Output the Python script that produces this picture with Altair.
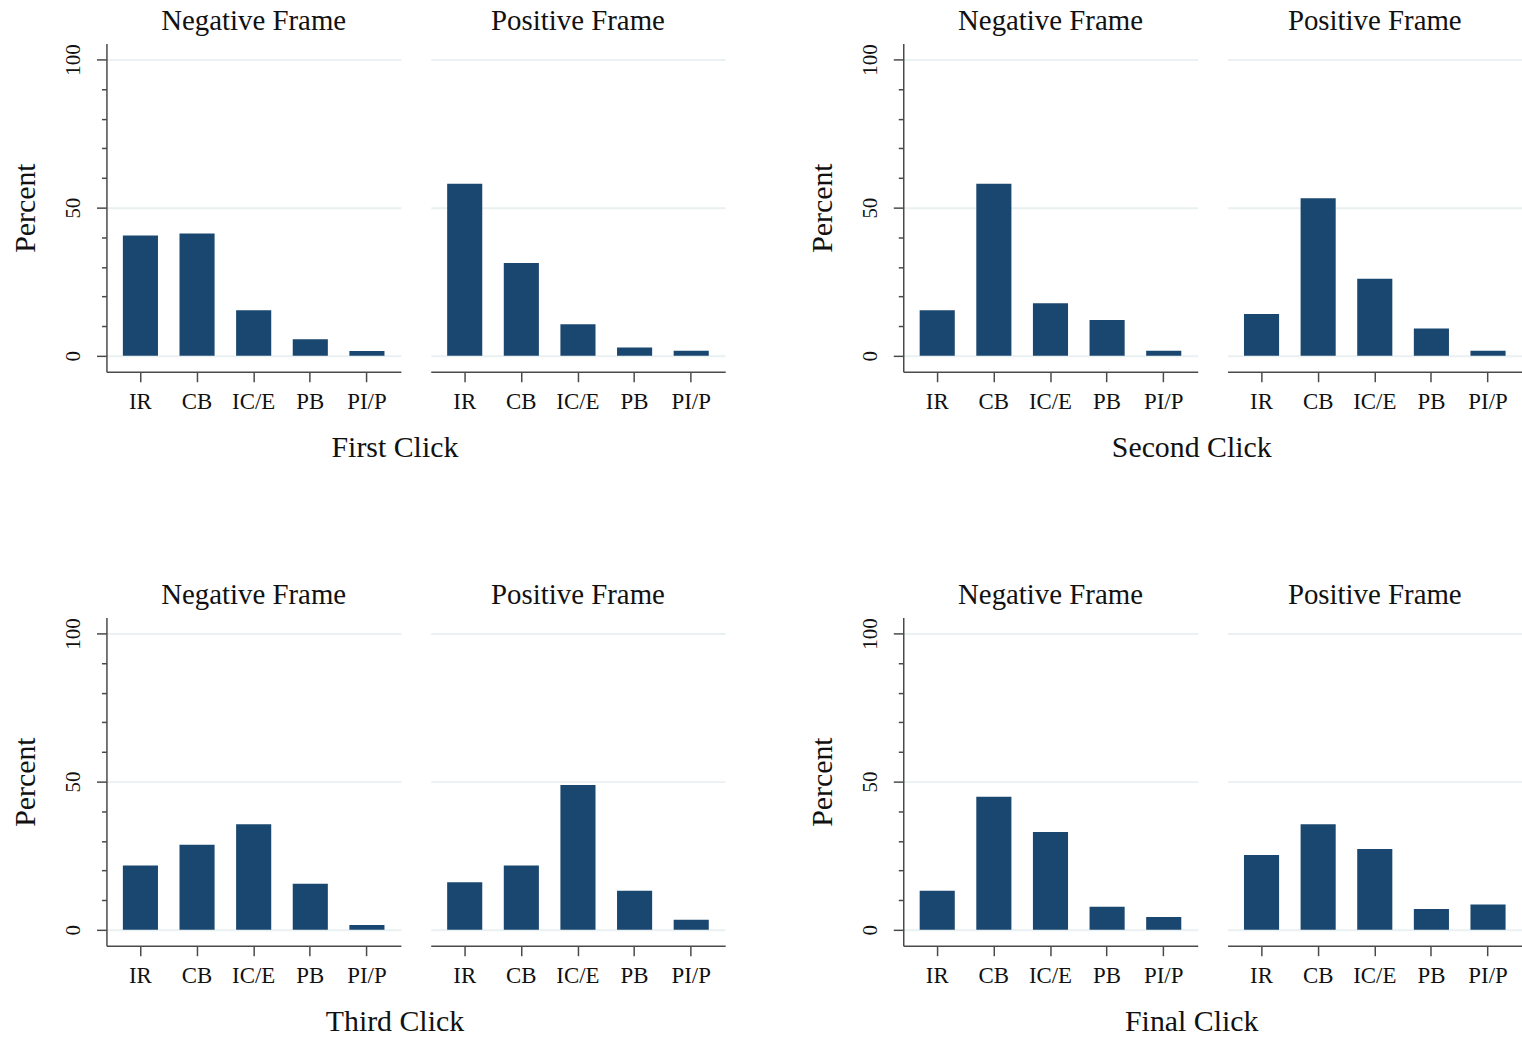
import altair as alt
import pandas as pd

categories = ["IR", "CB", "IC/E", "PB", "PI/P"]
frames = ["Negative Frame", "Positive Frame"]
clicks = ["First Click", "Second Click", "Third Click", "Final Click"]

first_neg = [40.6, 41.3, 15.4, 5.6, 1.6]
first_pos = [58.1, 31.3, 10.6, 2.8, 1.7]
second_neg = [15.4, 58.1, 17.7, 12.1, 1.7]
second_pos = [14.1, 53.2, 26.0, 9.2, 1.7]
third_neg = [21.7, 28.7, 35.6, 15.5, 1.6]
third_pos = [16.0, 21.7, 48.9, 13.2, 3.4]
final_neg = [13.2, 44.9, 33.0, 7.8, 4.3]
final_pos = [25.2, 35.6, 27.3, 7.0, 8.5]

series = {
    "First Click": (first_neg, first_pos),
    "Second Click": (second_neg, second_pos),
    "Third Click": (third_neg, third_pos),
    "Final Click": (final_neg, final_pos),
}

y_ticks = [0, 10, 20, 30, 40, 50, 60, 70, 80, 90, 100]

FONT = "Liberation Serif"
BAR = "#1a476f"
GRID = "#e9f1f3"
AXIS = "#4a4a4a"
PW, PH = 296, 330


def panel(vals, frame, first):
    df = pd.DataFrame({"cat": categories, "pct": vals})
    if first:
        yaxis = alt.Axis(
            values=y_ticks,
            labelExpr="datum.value % 50 === 0 ? datum.label : ''",
            tickSize={"expr": "datum.value % 50 === 0 ? 10 : 5"},
            gridOpacity={"expr": "datum.value % 50 === 0 ? 1 : 0"},
            grid=True, gridColor=GRID, gridWidth=2,
            labelAngle=270, labelFontSize=21, labelPadding=13,
            labelAlign="center", labelBaseline="bottom",
            title="Percent", titleFontSize=30, titleFontWeight="normal",
            titlePadding=22,
        )
    else:
        yaxis = alt.Axis(
            values=[0, 50, 100], labels=False, ticks=False, domain=False,
            title=None, grid=True, gridColor=GRID, gridWidth=2,
        )
    return alt.Chart(df).mark_bar(color=BAR).encode(
        x=alt.X("cat:N", sort=categories,
                scale=alt.Scale(paddingInner=0.38, paddingOuter=0.29),
                axis=alt.Axis(title=None, labelAngle=0, labelFontSize=23,
                              labelPadding=9, tickSize=10)),
        y=alt.Y("pct:Q", scale=alt.Scale(domain=[-5.4, 105.4], nice=False, zero=False),
                axis=yaxis),
        y2=alt.datum(0),
    ).properties(
        width=PW, height=PH,
        title=alt.TitleParams(frame, fontSize=29, fontWeight="normal", offset=8),
    )


def group(click):
    neg, pos = series[click]
    return alt.hconcat(
        panel(neg, frames[0], True),
        panel(pos, frames[1], False),
        spacing=30,
    ).properties(
        title=alt.TitleParams(click, orient="bottom", fontSize=30,
                              fontWeight="normal", anchor="middle", offset=20,
                              dx=27)
    )


chart = alt.vconcat(
    alt.hconcat(group(clicks[0]), group(clicks[1]), spacing=83),
    alt.hconcat(group(clicks[2]), group(clicks[3]), spacing=83),
    spacing=118,
).properties(
    padding={"left": 11, "top": 4, "right": 0, "bottom": 0},
).configure(font=FONT).configure_view(stroke=None).configure_axis(
    domainColor=AXIS, tickColor=AXIS, domainWidth=1.5, tickWidth=1.5,
    labelColor="#111", titleColor="#111", labelFont=FONT, titleFont=FONT,
).configure_title(font=FONT, color="#111")

chart.save("out.html", embed_options={"renderer": "svg", "actions": False})
